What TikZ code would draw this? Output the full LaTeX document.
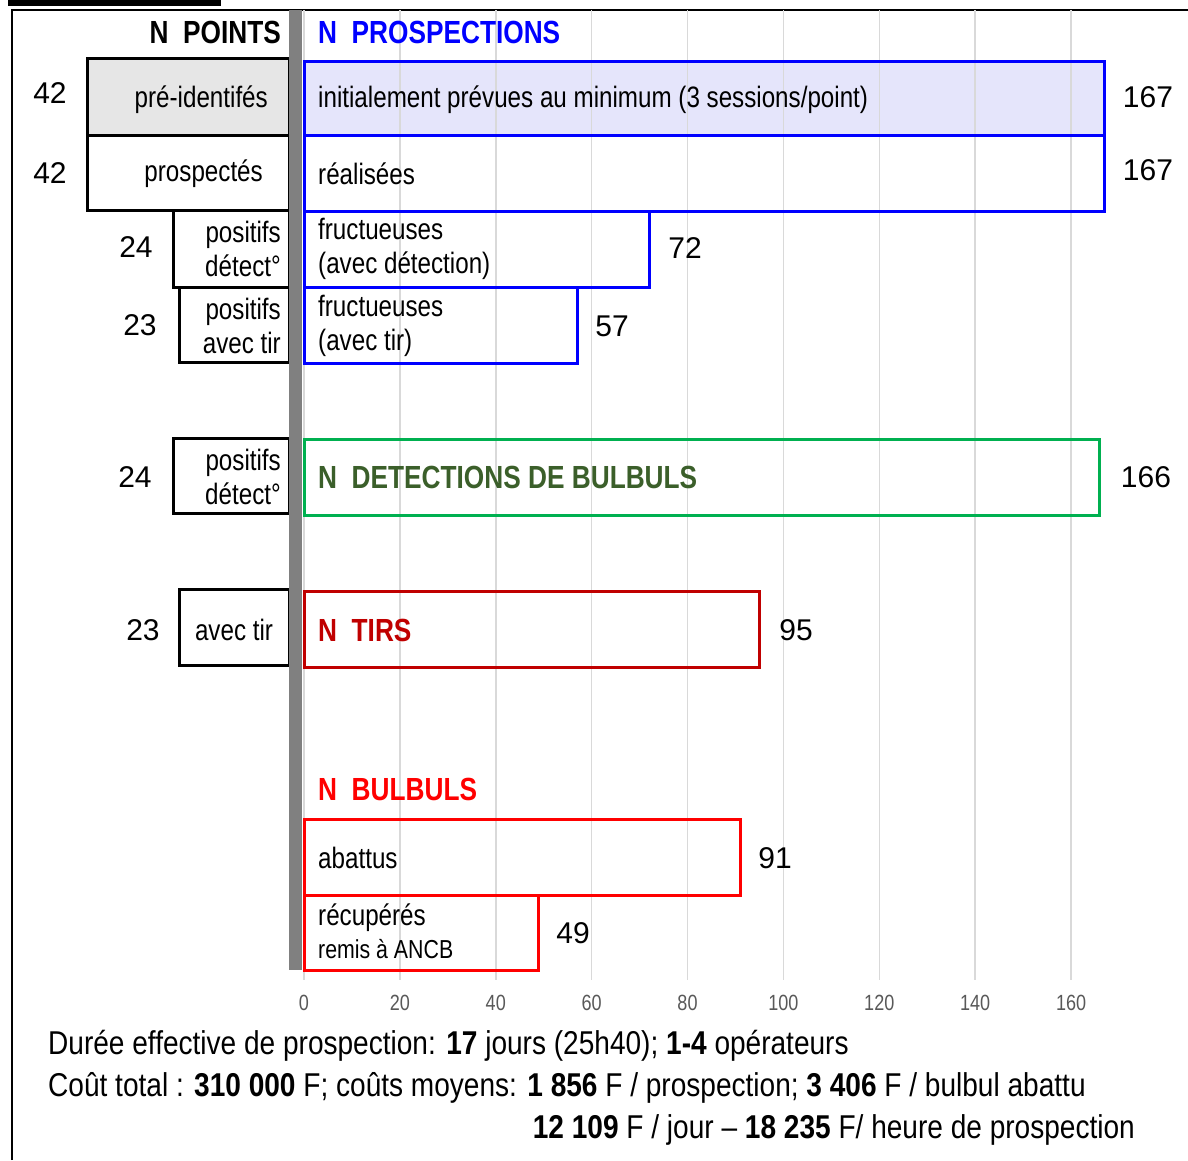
\documentclass[tikz,border=0pt]{standalone}
\usepackage{fontspec}
\setmainfont{Liberation Sans}
\newfontfamily\narrowfont[FakeStretch=0.82]{Liberation Sans}
\newfontfamily\footfont[FakeStretch=0.85]{Liberation Sans}
\usetikzlibrary{positioning}
\definecolor{barblue}{HTML}{0000FF}
\definecolor{lavender}{HTML}{E5E5FB}
\definecolor{detgreen}{HTML}{00B050}
\definecolor{dkgreen}{HTML}{3B5F2A}
\definecolor{tirred}{HTML}{C00000}
\definecolor{bulred}{HTML}{FF0000}
\definecolor{gridgray}{HTML}{D9D9D9}
\definecolor{axgray}{HTML}{595959}
\definecolor{bargray}{HTML}{808080}
\definecolor{boxgray}{HTML}{E6E6E6}
\tikzset{
  outline/.style={draw=black,line width=3pt},
  prosp/.style={draw=barblue,line width=3pt},
  lab/.style={font=\narrowfont\fontsize{29.5}{34}\selectfont,inner sep=0pt},
  num/.style={font=\fontsize{30}{32}\selectfont,inner sep=0pt},
  head/.style={font=\narrowfont\bfseries\fontsize{32}{34}\selectfont,inner sep=0pt,anchor=west},
  axlab/.style={font=\narrowfont\fontsize{22}{24}\selectfont,text=axgray,inner sep=0pt},
  foot/.style={font=\footfont\fontsize{33}{40}\selectfont,inner sep=0pt,anchor=west}
}
\begin{document}
\begin{tikzpicture}[x=1pt,y=-1pt,line join=miter]
\def\u{4.794}\def\xo{304}
\useasboundingbox (0,0) rectangle (1188,1160);
% frame
\fill (8,0) rectangle (221,6);
\draw[line width=2pt] (12,1160) -- (12,10) -- (1188,10);
% fill of the first bar, then the grid and the axis
\fill[lavender] (\xo,61) rectangle ({\xo+167*\u},135);
\foreach \v in {0,20,...,160} {
  \draw[gridgray,line width=1.5pt] ({\xo+\v*\u},10) -- ({\xo+\v*\u},980);
  \node[axlab] (ax\v) at ({\xo+\v*\u},1003) {\v};
}
% points (left)
\node[head,anchor=east] (npoints) at (281,32) {N\ \ POINTS};
\draw[outline,fill=boxgray] (87,58) rectangle (289,135);
\draw[outline] (87,135) rectangle (289,210);
\draw[outline] (173,210) rectangle (289,287);
\draw[outline] (179,287) rectangle (289,362);
\draw[outline] (173,438) rectangle (289,513);
\draw[outline] (179,589) rectangle (289,665);
\node[lab,anchor=east] (preid) at (268,100) {pré-identifés};
\node[lab,anchor=east] (prospectes) at (263,174) {prospectés};
\node[lab,anchor=east,align=right] (posdet) at (281,249) {positifs\\détect°};
\node[lab,anchor=east,align=right] (postir) at (281,326) {positifs\\avec tir};
\node[lab,anchor=east,align=right] (posdetb) at (281,477) {positifs\\détect°};
\node[lab] (avectir) at (234,630) {avec tir};
\node[num] (n1) at (50,93) {42};
\node[num] (n2) at (50,173) {42};
\node[num] (n3) at (136,247) {24};
\node[num] (n4) at (140,325) {23};
\node[num] (n5) at (135,477) {24};
\node[num] (n6) at (143,630) {23};
% separator
\fill[bargray] (289,10) rectangle (302,970);
% prospections
\node[head,text=barblue] (nprosp) at (318,32) {N\ \ PROSPECTIONS};
\draw[prosp] (\xo,61) rectangle ({\xo+167*\u},135);
\draw[prosp] (\xo,135) rectangle ({\xo+167*\u},211);
\draw[prosp] (\xo,211) rectangle ({\xo+72*\u},287);
\draw[prosp] (\xo,287) rectangle ({\xo+57*\u},363);
\node[lab,anchor=west] (initial) at (318,100) {initialement prévues au minimum (3 sessions/point)};
\node[lab,anchor=west] (realisees) at (318,174) {réalisées};
\node[lab,anchor=west,align=left] (fructdet) at (318,249) {fructueuses\\(avec détection)};
\node[lab,anchor=west,align=left] (fructtir) at (318,326) {fructueuses\\(avec tir)};
\node[num] (v1) at (1148,97) {167};
\node[num] (v2) at (1148,170) {167};
\node[num] (v3) at (685,248) {72};
\node[num] (v4) at (612,326) {57};
% detections
\draw[detgreen,line width=3pt] (\xo,439) rectangle ({\xo+166*\u},515);
\node[head,text=dkgreen] (ndet) at (318,477) {N\ \ DETECTIONS DE BULBULS};
\node[num] (v5) at (1146,477) {166};
% tirs
\draw[tirred,line width=3pt] (\xo,591) rectangle ({\xo+95*\u},667);
\node[head,text=tirred] (ntirs) at (318,630) {N\ \ TIRS};
\node[num] (v6) at (796,630) {95};
% bulbuls
\node[head,text=bulred] (nbul) at (318,789) {N\ \ BULBULS};
\draw[bulred,line width=3pt] (\xo,819) rectangle ({\xo+91*\u},895);
\draw[bulred,line width=3pt] (\xo,895) rectangle ({\xo+49*\u},970);
\node[lab,anchor=west] (abattus) at (318,858) {abattus};
\node[lab,anchor=west] (recup) at (318,918) {récupérés};
\node[lab,anchor=west,font=\narrowfont\fontsize{26}{28}\selectfont] (remis) at (318,949) {remis à ANCB};
\node[num] (v7) at (775,858) {91};
\node[num] (v8) at (573,933) {49};
% footer
\node[foot] (duree) at (48,1046) {Durée effective de prospection: \textbf{17} jours (25h40); \textbf{1-4} opérateurs};
\node[foot] (cout) at (48,1088) {Coût total : \textbf{310 000} F; coûts moyens: \textbf{1 856} F / prospection; \textbf{3 406} F / bulbul abattu};
\node[foot,anchor=east] (parjour) at (1135,1130) {\textbf{12 109} F / jour – \textbf{18 235} F/ heure de prospection};
\end{tikzpicture}
\end{document}
